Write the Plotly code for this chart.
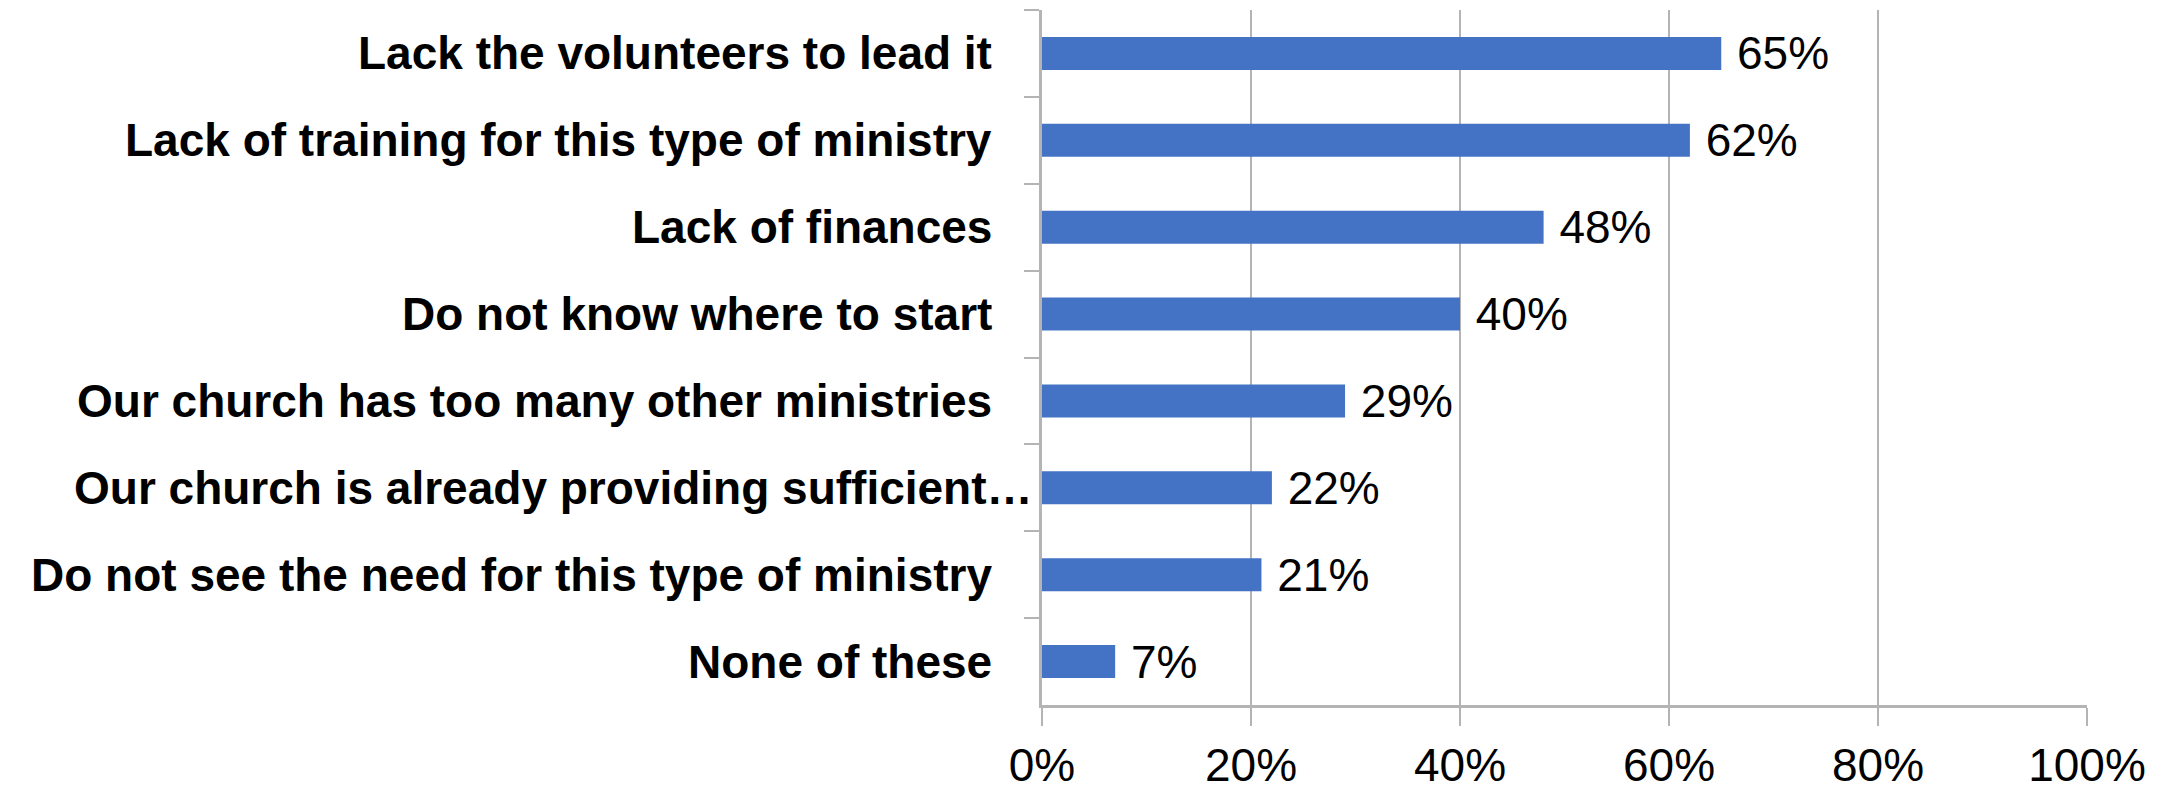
import plotly.graph_objects as go

categories = [
    "Lack the volunteers to lead it",
    "Lack of training for this type of ministry",
    "Lack of finances",
    "Do not know where to start",
    "Our church has too many other ministries",
    "Our church is already providing sufficient…",
    "Do not see the need for this type of ministry",
    "None of these",
]
values = [0.65, 0.62, 0.48, 0.40, 0.29, 0.22, 0.21, 0.07]
x_ticks = [0, 0.2, 0.4, 0.6, 0.8, 1.0]
x_tick_labels = ["0%", "20%", "40%", "60%", "80%", "100%"]

FONT = "Liberation Sans, Arial, sans-serif"
GRID = "#b4b4b4"

fig = go.Figure(
    go.Bar(
        x=values,
        y=categories,
        orientation="h",
        marker=dict(color="#4472C4", line=dict(width=0)),
        text=[f"\u00a0{v:.0%}" for v in values],
        textposition="outside",
        constraintext="none",
        textfont=dict(family=FONT, size=46, color="#000000"),
        cliponaxis=False,
    )
)

# category labels drawn as annotations so the truncated one can sit closer to the axis
for cat in categories:
    truncated = cat.endswith("…")
    fig.add_annotation(
        x=0, xref="paper", y=cat, yref="y",
        text=f"<b>{cat}</b>", showarrow=False,
        xanchor="right", yanchor="middle",
        xshift=-7 if truncated else -48,
        font=dict(family=FONT, size=46, color="#000000"),
    )

fig.update_layout(
    width=2169, height=794,
    margin=dict(l=1042, r=82, t=10, b=89),
    paper_bgcolor="white", plot_bgcolor="white",
    showlegend=False,
    bargap=0.62,
)
fig.update_xaxes(
    range=[0, 1],
    automargin=False,
    tickvals=x_ticks, ticktext=x_tick_labels,
    tickfont=dict(family=FONT, size=46, color="#000000"),
    showgrid=True, gridcolor=GRID, gridwidth=2,
    showline=True, linecolor=GRID, linewidth=3,
    ticks="outside", ticklen=18, tickcolor=GRID, tickwidth=2,
    zeroline=False,
)
fig.update_yaxes(
    autorange="reversed",
    automargin=False,
    showticklabels=False,
    showgrid=False,
    showline=True, linecolor=GRID, linewidth=3,
    ticks="outside", ticklen=15, tickcolor=GRID, tickwidth=2,
    tickson="boundaries",
)

fig.write_html("out.html")
